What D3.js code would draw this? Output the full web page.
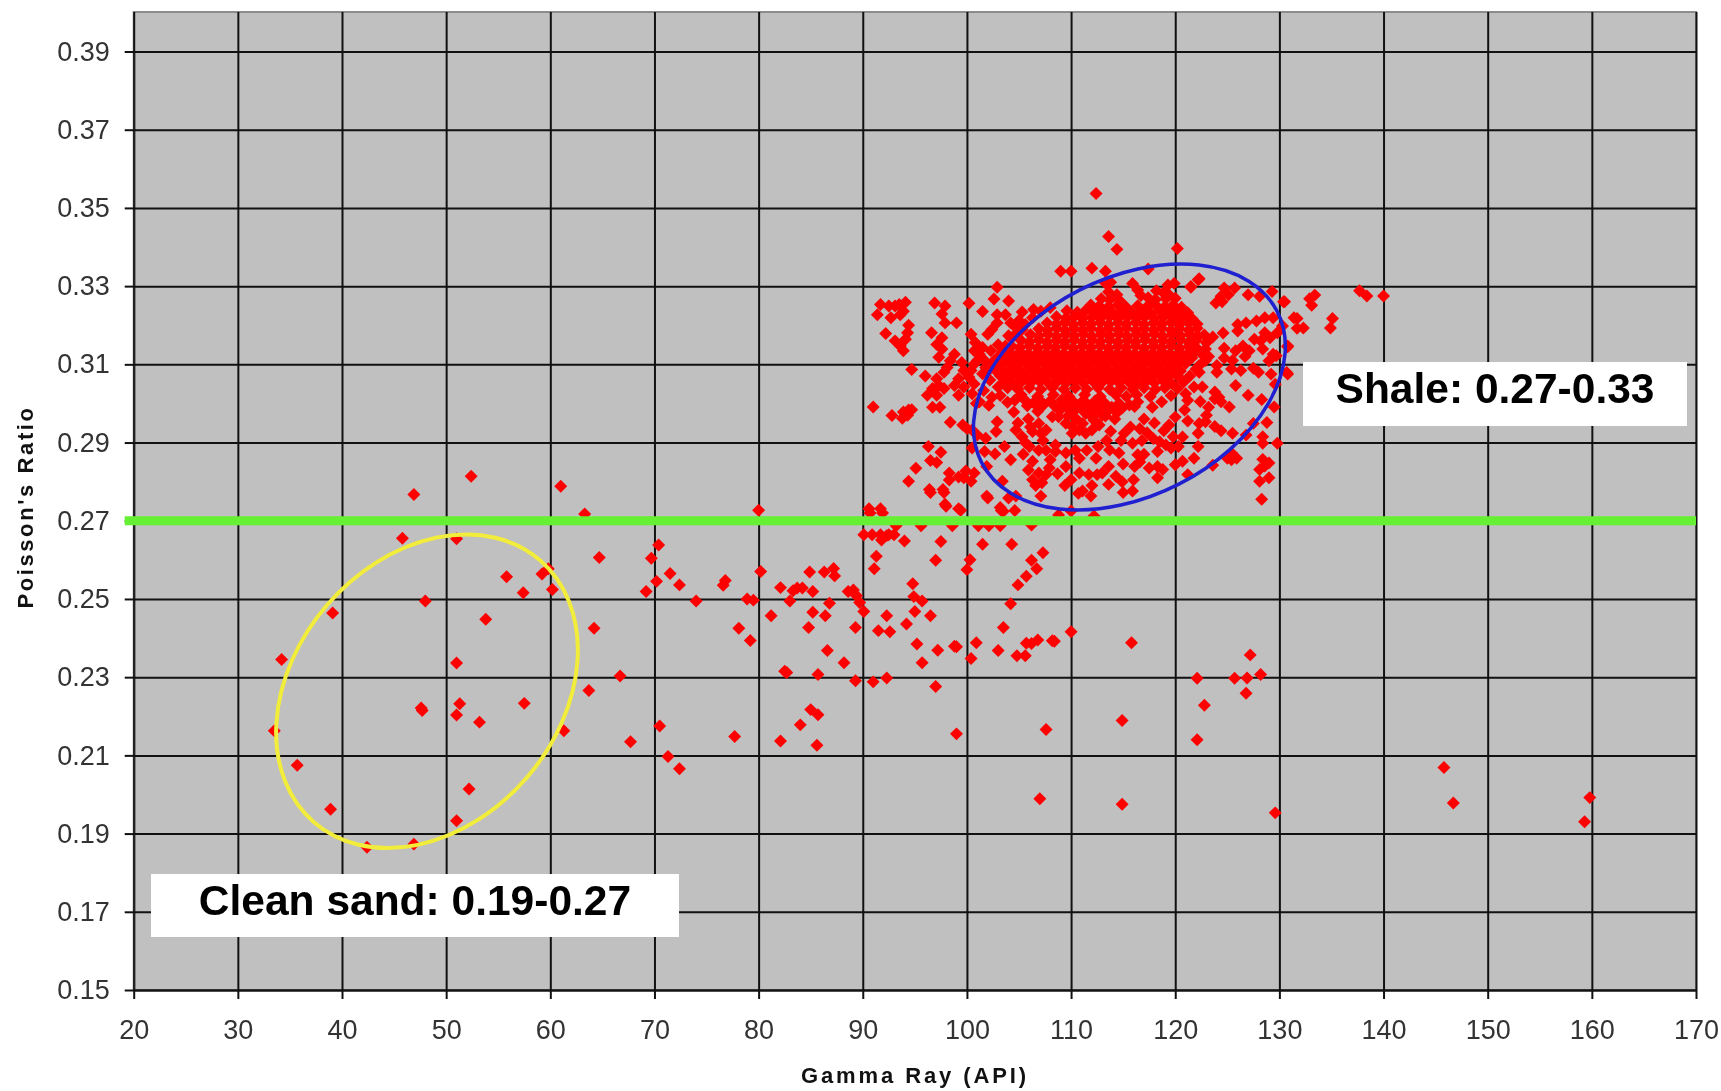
<!DOCTYPE html>
<html>
<head>
<meta charset="utf-8">
<title>Poisson's Ratio vs Gamma Ray</title>
<script src="https://d3js.org/d3.v7.min.js"></script>
<style>
    html, body { margin: 0; padding: 0; background: #fff; overflow: hidden; }
    svg { display: block; filter: blur(0.4px); }
    text { font-family: "Liberation Sans", Arial, sans-serif; }
</style>
</head>
<body>
<div id="canvas"></div>
<script>
"use strict"

/* Tick labels */
const xTicks = d3.range(20, 171, 10);
const yTicks = [0.15, 0.17, 0.19, 0.21, 0.23, 0.25, 0.27, 0.29, 0.31, 0.33, 0.35, 0.37, 0.39];

/* All points are [gamma ray, poisson's ratio] */
const sandPoints = [
    [52.4, .2814], [46.9, .2767], [61.0, .2788], [63.3, .2717], [45.8, .2655], [51.0, .2654], [64.7, .2606],
    [59.8, .2577], [59.2, .2564], [55.8, .2557], [57.4, .2516], [60.2, .2524], [48.0, .2495], [39.1, .2464],
    [53.8, .2448], [64.2, .2425], [34.2, .2345], [51.0, .2336], [66.7, .2303], [63.7, .2266], [51.3, .2232],
    [47.6, .2221], [47.7, .2215], [51.0, .2203], [53.2, .2185], [57.5, .2233], [61.3, .2163], [33.5, .2163],
    [67.7, .2135], [35.7, .2075], [52.2, .2014], [38.9, .1962], [51.0, .1933], [42.4, .1865], [46.9, .1873]
];
const transitionPoints = [
    [70.4, .2638], [69.7, .2604], [71.5, .2565], [72.4, .2536], [70.2, .2545], [69.2, .2519], [74.0, .2495],
    [70.5, .2175], [71.3, .2097], [72.4, .2066], [80.0, .2727], [76.8, .2547], [76.6, .2535], [78.9, .2500],
    [79.5, .2497], [80.2, .2570], [78.1, .2425], [79.2, .2394], [81.2, .2457], [82.1, .2529], [83.0, .2495],
    [83.3, .2521], [83.7, .2528], [84.2, .2528], [84.9, .2569], [86.3, .2569], [87.2, .2578], [87.3, .2559],
    [85.2, .2519], [86.8, .2489], [85.2, .2466], [86.4, .2457], [84.8, .2427], [88.6, .2519], [89.1, .2523],
    [89.4, .2508], [89.7, .2491], [90.1, .2468], [89.3, .2427], [86.6, .2368], [88.2, .2337], [82.5, .2315],
    [82.7, .2312], [85.7, .2307], [89.3, .2291], [91.0, .2288], [92.3, .2298], [97.0, .2276], [94.8, .2539],
    [94.9, .2506], [95.7, .2495], [95.0, .2468], [96.5, .2457], [92.3, .2457], [94.2, .2436], [91.5, .2419],
    [92.6, .2416], [95.2, .2385], [97.2, .2369], [98.8, .2379], [99.0, .2378], [95.7, .2337], [100.9, .2388],
    [100.4, .2348], [103.0, .2368], [103.5, .2427], [104.2, .2488], [104.8, .2355], [105.6, .2355], [105.7, .2387],
    [106.2, .2386], [106.8, .2395], [108.2, .2393], [108.4, .2392], [110.0, .2416], [77.7, .2148], [82.1, .2137],
    [84.0, .2178], [85.0, .2217], [85.7, .2204], [85.6, .2126], [99.0, .2155], [107.6, .2166], [107.0, .1989],
    [94.0, .2648], [97.5, .2647], [101.5, .2640], [104.3, .2640], [107.3, .2618], [106.2, .2599], [106.7, .2577],
    [105.7, .2558], [104.9, .2536], [100.3, .2600], [100.0, .2575], [97.0, .2599], [91.3, .2609], [91.1, .2577],
    [90.1, .2664], [90.9, .2664], [91.7, .2664], [92.5, .2664], [93.0, .2664], [91.8, .2651], [92.3, .2662]
];
const highGammaPoints = [
    [115.8, .2388], [127.2, .2357], [122.1, .2297], [125.7, .2297], [126.9, .2298], [128.2, .2307], [126.8, .2259],
    [122.8, .2228], [114.9, .2189], [122.1, .2140], [145.8, .2069], [146.7, .1978], [159.8, .1992], [159.3, .1930],
    [114.9, .1975], [129.6, .1953]
];
const greenLinePoints = [
    [90.7, .2720], [91.9, .2720], [98.0, .2737], [99.4, .2727], [102.0, .2758], [96.5, .2772], [97.8, .2772],
    [103.3, .2726], [104.6, .2726], [103.5, .2724], [93.2, .2687], [95.6, .2687], [98.6, .2687], [101.1, .2687],
    [102.1, .2687], [103.2, .2687], [106.2, .2689], [90.6, .2731], [91.7, .2731], [99.2, .2731], [97.9, .2742],
    [103.2, .2734], [110.0, .2725], [108.8, .2715], [112.2, .2712]
];
const shaleOutliers = [
    [112.4, .3537], [113.6, .3427], [114.4, .3394], [120.2, .3396], [109.0, .3338], [110.0, .3338], [112.0, .3346],
    [113.3, .3338], [117.4, .3344], [122.2, .3316], [121.5, .3297], [113.3, .3308], [140.0, .3275], [138.4, .3275],
    [137.7, .3288], [133.4, .3277], [132.9, .3268], [133.1, .3251], [130.4, .3260], [131.7, .3217], [132.3, .3193],
    [131.7, .3192], [135.1, .3217], [134.9, .3193], [131.4, .3219], [130.8, .3145], [130.8, .3075]
];
const shaleLeft = [
    [91.7, .3253], [91.4, .3227], [92.5, .3249], [92.7, .3219], [93.1, .3249], [93.6, .3227], [93.5, .3253],
    [94.1, .3259], [93.9, .3236], [94.4, .3200], [94.3, .3181], [94.1, .3164], [92.2, .3179], [93.1, .3160],
    [93.6, .3147], [93.9, .3135], [96.9, .3257], [97.9, .3249], [97.6, .3229], [97.9, .3206], [99.0, .3206],
    [96.6, .3181], [97.6, .3168], [97.1, .3151], [97.6, .3139], [97.3, .3118], [98.8, .3126], [98.4, .3109],
    [98.1, .3092], [97.8, .3080], [94.7, .3087], [96.0, .3070], [97.1, .3063], [97.3, .3046], [96.7, .3038],
    [96.2, .3021], [97.8, .3038], [98.8, .3046], [97.1, .3021], [99.2, .3021], [91.0, .2991], [92.8, .2969],
    [93.8, .2962], [94.4, .2983], [93.9, .2978], [94.7, .2984], [94.3, .2970], [96.7, .2990], [97.4, .2990],
    [98.4, .2952], [99.6, .2945], [100.0, .2936], [96.3, .2890], [97.5, .2875], [96.5, .2854], [97.1, .2849],
    [95.1, .2834], [94.4, .2801], [96.4, .2780], [97.7, .2780], [98.3, .2822], [98.3, .2804], [99.2, .2812],
    [99.9, .2827], [100.7, .2822], [100.4, .2801], [99.7, .2810], [100.2, .3256], [102.9, .3297], [102.6, .3267],
    [104.0, .3262], [101.5, .3235], [100.4, .3177], [100.8, .3156], [101.5, .3143], [102.3, .3135], [100.7, .3135],
    [101.2, .3126], [100.4, .3084], [99.7, .3084], [100.7, .3101], [100.2, .3067], [100.7, .3050], [99.7, .3042],
    [101.5, .3076], [101.6, .3033], [100.5, .3025], [101.2, .3004], [102.1, .2995], [102.4, .3016], [102.4, .3189],
    [102.0, .3177], [102.9, .3206], [102.9, .3227], [103.7, .3227], [104.2, .3206], [104.7, .3194], [105.3, .3234],
    [107.1, .3236], [106.3, .3219], [105.6, .3202], [104.0, .3173], [104.7, .3177], [103.7, .3147], [105.3, .3189],
    [101.0, .3110], [101.8, .3092], [102.6, .3108], [102.2, .3060], [99.2, .3063], [99.5, .3105], [100.9, .3000]
];
const shaleLower = [
    [100.5, .2886], [101.7, .2877], [102.7, .2871], [103.6, .2890], [101.9, .2839], [103.4, .2801], [101.9, .2763],
    [104.7, .2763], [104.0, .2758], [104.2, .2856], [107.1, .2763], [102.9, .2953], [102.8, .2928], [101.0, .2919],
    [101.8, .2911], [100.5, .2932], [104.7, .2932], [105.3, .2915], [106.0, .2890], [105.6, .2900], [106.9, .2949],
    [107.6, .2932], [106.3, .2928], [107.1, .2924], [108.5, .2894], [108.5, .2877], [106.3, .2852], [108.0, .2856],
    [109.5, .2873], [109.5, .2839], [106.9, .2822], [107.6, .2818], [106.3, .2805], [107.2, .2797], [110.0, .2805],
    [110.8, .2822], [111.7, .2818], [112.5, .2818], [111.1, .2776], [111.9, .2763], [104.5, .2978], [108.2, .2966],
    [109.2, .3000], [111.4, .2974], [111.1, .2949], [110.1, .2924], [108.8, .2966], [109.5, .2949], [110.1, .2941],
    [110.8, .2932], [111.4, .2924], [112.0, .2932], [112.2, .2957], [111.7, .2991], [110.8, .2991], [113.7, .2881],
    [114.6, .2873], [116.4, .2869], [116.1, .2839], [113.6, .2839], [114.3, .2814], [113.6, .2793], [115.0, .2772],
    [115.9, .2776], [116.0, .2805], [113.8, .2929], [115.7, .2940], [115.1, .2924], [115.9, .2898], [113.0, .2822],
    [118.5, .2902], [119.1, .2894], [118.3, .2877], [119.6, .2886], [117.5, .2835], [118.3, .2839], [118.8, .2831],
    [118.3, .2810], [120.7, .2914], [118.9, .2930], [122.2, .2890], [121.8, .2860], [120.7, .2852], [120.0, .2843],
    [123.6, .2842], [121.2, .2818], [113.0, .2970], [114.2, .2960], [117.0, .2960], [118.0, .2950], [119.4, .2945],
    [116.8, .2905], [112.6, .2890], [110.4, .2880],
    [104.9, .2950], [105.9, .2960], [106.1, .2940], [107.3, .2905], [106.9, .2880], [107.6, .2880], [105.4, .2870],
    [105.9, .2830], [107.9, .2835], [108.7, .2820], [106.6, .2790], [109.4, .2790], [110.5, .2960], [112.7, .2945],
    [113.4, .2905], [114.8, .2905], [117.3, .2925], [116.6, .2935], [117.9, .2910], [119.8, .2915], [120.3, .2890],
    [116.6, .2850], [115.0, .2845], [114.9, .2800], [117.0, .2870], [112.4, .2860], [111.5, .2880], [110.8, .2860],
    [112.0, .2790], [110.7, .2770]
];
const shaleRight = [
    [130.5, .3260], [129.3, .3286], [127.0, .3278], [128.1, .3274], [125.7, .3295], [124.7, .3295], [124.4, .3274],
    [125.1, .3278], [123.9, .3257], [124.5, .3260], [122.3, .3319], [121.5, .3299], [119.3, .3303], [119.9, .3307],
    [119.4, .3278], [119.0, .3286], [120.0, .3269], [115.9, .3307], [116.4, .3290], [116.7, .3276], [117.7, .3256],
    [113.8, .3310], [126.0, .3202], [126.8, .3206], [126.0, .3185], [127.8, .3211], [128.6, .3219], [129.4, .3219],
    [130.3, .3198], [129.8, .3181], [127.6, .3164], [128.6, .3181], [129.1, .3168], [128.2, .3160], [124.7, .3141],
    [126.5, .3147], [127.1, .3135], [125.8, .3135], [128.4, .3139], [129.4, .3126], [130.8, .3147], [124.7, .3116],
    [129.0, .3109], [129.7, .3122], [126.7, .3120], [124.0, .3097], [124.0, .3080], [125.4, .3088], [126.3, .3084],
    [129.2, .3075], [130.7, .3079], [125.8, .3046], [129.6, .3049], [127.0, .3021], [128.3, .3010], [129.5, .2991],
    [123.8, .3029], [124.2, .3016], [123.8, .3012], [124.4, .3004], [125.2, .2991], [122.9, .3139], [122.3, .3097],
    [122.3, .3080], [121.8, .3042], [122.6, .3042], [121.0, .3025], [121.2, .3008], [120.9, .2983], [122.3, .2949],
    [122.9, .2953], [123.8, .2941], [124.4, .2930], [122.2, .2924], [125.5, .2924], [126.8, .2919], [127.5, .2949],
    [128.8, .2951], [128.4, .2915], [128.4, .2898], [129.8, .2898], [125.4, .2873], [125.0, .2860], [125.9, .2860],
    [125.4, .2856], [128.4, .2857], [129.0, .2848], [128.1, .2831], [128.6, .2840], [129.0, .2810], [128.1, .2801],
    [128.3, .2755],
    [123.2, .3120], [123.6, .3170], [124.6, .3180], [125.5, .3110], [127.5, .3090], [128.0, .3080], [123.2, .2990],
    [122.4, .3005], [123.0, .2970], [120.0, .2965], [121.2, .2955]
];
const shaleCore = [
    [113.6, .3285], [114.4, .3278], [118.2, .3288], [118.9, .3282], [112.9, .3268], [113.7, .3265], [114.7, .3262],
    [117.4, .3270], [118.1, .3266], [119.1, .3268], [111.9, .3252], [112.7, .3249], [113.6, .3247], [114.5, .3252],
    [115.3, .3246], [116.4, .3250], [117.3, .3247], [118.1, .3252], [119.0, .3247], [119.8, .3252], [120.6, .3246],
    [109.6, .3237], [110.6, .3233], [111.4, .3238], [112.2, .3234], [113.1, .3236], [114.0, .3232], [114.9, .3237],
    [115.8, .3233], [116.7, .3236], [117.6, .3232], [118.5, .3237], [119.4, .3233], [120.3, .3236], [121.2, .3232],
    [108.6, .3222], [109.5, .3218], [110.3, .3222], [111.1, .3217], [112.0, .3221], [112.8, .3218], [113.7, .3222],
    [114.5, .3217], [115.4, .3221], [116.3, .3218], [117.1, .3222], [118.0, .3217], [118.9, .3222], [119.8, .3218],
    [120.7, .3222], [121.6, .3217], [107.7, .3206], [108.6, .3203], [109.4, .3207], [110.2, .3202], [111.1, .3206],
    [111.9, .3203], [112.8, .3207], [113.6, .3202], [114.5, .3206], [115.3, .3203], [116.2, .3207], [117.0, .3202],
    [117.9, .3206], [118.7, .3203], [119.6, .3207], [120.4, .3202], [121.3, .3206], [122.1, .3203], [106.9, .3191],
    [107.7, .3188], [108.6, .3192], [109.4, .3187], [110.3, .3191], [111.1, .3188], [111.9, .3192], [112.8, .3187],
    [113.6, .3191], [114.5, .3188], [115.3, .3192], [116.2, .3187], [117.0, .3191], [117.9, .3188], [118.7, .3192],
    [119.6, .3187], [120.4, .3191], [121.3, .3188], [122.1, .3192], [106.1, .3176], [106.9, .3173], [107.8, .3177],
    [108.6, .3172], [109.5, .3176], [110.3, .3173], [111.2, .3177], [112.0, .3172], [112.9, .3176], [113.7, .3173],
    [114.6, .3177], [115.4, .3172], [116.3, .3176], [117.1, .3173], [118.0, .3177], [118.8, .3172], [119.7, .3176],
    [120.5, .3173], [121.4, .3177], [122.2, .3172], [105.2, .3161], [106.0, .3158], [106.9, .3162], [107.7, .3157],
    [108.6, .3161], [109.4, .3158], [110.3, .3162], [111.1, .3157], [112.0, .3161], [112.8, .3158], [113.7, .3162],
    [114.5, .3157], [115.4, .3161], [116.2, .3158], [117.1, .3162], [117.9, .3157], [118.8, .3161], [119.6, .3158],
    [120.5, .3162], [121.3, .3157], [122.0, .3161], [104.3, .3146], [105.1, .3143], [106.0, .3147], [106.8, .3142],
    [107.7, .3146], [108.5, .3143], [109.4, .3147], [110.2, .3142], [111.1, .3146], [111.9, .3143], [112.8, .3147],
    [113.6, .3142], [114.5, .3146], [115.3, .3143], [116.2, .3147], [117.0, .3142], [117.9, .3146], [118.7, .3143],
    [119.6, .3147], [120.4, .3142], [121.3, .3146], [122.0, .3143], [103.4, .3131], [104.2, .3128], [105.1, .3132],
    [105.9, .3127], [106.8, .3131], [107.6, .3128], [108.5, .3132], [109.3, .3127], [110.2, .3131], [111.0, .3128],
    [111.9, .3132], [112.7, .3127], [113.6, .3131], [114.4, .3128], [115.3, .3132], [116.1, .3127], [117.0, .3131],
    [117.8, .3128], [118.7, .3132], [119.5, .3127], [120.4, .3131], [121.2, .3128], [121.9, .3132], [102.9, .3116],
    [103.7, .3113], [104.6, .3117], [105.4, .3112], [106.3, .3116], [107.1, .3113], [108.0, .3117], [108.8, .3112],
    [109.7, .3116], [110.5, .3113], [111.4, .3117], [112.2, .3112], [113.1, .3116], [113.9, .3113], [114.8, .3117],
    [115.6, .3112], [116.5, .3116], [117.3, .3113], [118.2, .3117], [119.0, .3112], [119.9, .3116], [120.7, .3113],
    [121.6, .3117], [102.3, .3101], [103.1, .3098], [104.0, .3102], [104.8, .3097], [105.7, .3101], [106.5, .3098],
    [107.4, .3102], [108.2, .3097], [109.1, .3101], [109.9, .3098], [110.8, .3102], [111.6, .3097], [112.5, .3101],
    [113.3, .3098], [114.2, .3102], [115.0, .3097], [115.9, .3101], [116.7, .3098], [117.6, .3102], [118.4, .3097],
    [119.3, .3101], [120.1, .3098], [121.0, .3102], [102.7, .3086], [103.5, .3083], [104.4, .3087], [105.2, .3082],
    [106.1, .3086], [106.9, .3083], [107.8, .3087], [108.6, .3082], [109.5, .3086], [110.3, .3083], [111.2, .3087],
    [112.0, .3082], [112.9, .3086], [113.7, .3083], [114.6, .3087], [115.4, .3082], [116.3, .3086], [117.1, .3083],
    [118.0, .3087], [118.8, .3082], [119.7, .3086], [120.5, .3083], [103.2, .3071], [104.0, .3068], [104.9, .3072],
    [105.7, .3067], [106.6, .3071], [107.4, .3068], [108.3, .3072], [109.1, .3067], [110.0, .3071], [110.8, .3068],
    [111.7, .3072], [112.5, .3067], [113.4, .3071], [114.2, .3068], [115.1, .3072], [115.9, .3067], [116.8, .3071],
    [117.6, .3068], [118.5, .3072], [119.3, .3067], [120.2, .3071], [103.6, .3056], [104.4, .3053], [105.3, .3057],
    [106.1, .3052], [107.0, .3056], [107.8, .3053], [108.7, .3057], [109.5, .3052], [110.4, .3056], [111.2, .3053],
    [112.1, .3057], [112.9, .3052], [113.8, .3056], [114.6, .3053], [115.5, .3057], [116.3, .3052], [117.2, .3056],
    [118.0, .3053], [118.9, .3057], [119.6, .3052], [103.9, .3040], [104.9, .3036], [106.0, .3040], [107.1, .3036],
    [108.2, .3040], [109.3, .3036], [110.4, .3040], [111.5, .3036], [112.6, .3040], [113.7, .3036], [114.8, .3040],
    [115.9, .3036], [117.0, .3040], [118.1, .3036], [119.0, .3040], [105.2, .3022], [106.8, .3018], [108.3, .3022],
    [109.8, .3018], [111.3, .3022], [112.8, .3018], [114.3, .3022], [115.3, .3018], [116.3, .3022], [117.6, .3018],
    [113.2, .3002], [114.6, .3000], [115.6, .2996], [116.4, .3004], [106.4, .3002], [107.4, .2998]
];
const shaleCoreEdge = [
    [104.6, .3008], [105.7, .3005], [106.9, .3010], [108.0, .3006], [109.1, .3009], [110.2, .3005], [111.2, .3008],
    [112.3, .3006], [105.8, .2994], [107.0, .2988], [108.4, .2994], [109.6, .2990], [110.6, .2994], [111.7, .2992],
    [112.8, .2994], [113.9, .2990], [114.9, .2988], [116.1, .2992], [106.8, .2980], [108.9, .2982], [110.2, .2978],
    [111.3, .2982], [112.4, .2978], [113.5, .2980], [114.4, .2976], [109.7, .2968], [112.0, .2966], [113.3, .2968],
    [122.8, .3175], [123.0, .3155], [122.6, .3125], [122.9, .3110], [122.0, .3088], [121.4, .3070], [120.8, .3055],
    [120.2, .3038], [119.6, .3020], [118.7, .3004], [117.8, .2990], [102.0, .3082], [101.7, .3110], [103.0, .3150],
    [104.3, .3168], [105.0, .3212], [106.4, .3240], [108.0, .3245], [103.0, .3042], [103.2, .3020], [103.9, .3003]
];

/* Text labels */
const xLabel = "Gamma Ray (API)";
const yLabel = "Poisson's Ratio";
const cleanSandLabel = "Clean sand: 0.19-0.27";
const shaleLabel = "Shale: 0.27-0.33";
const boundaryValue = 0.27;

/* Configuration variables: drawing */
let svgWidth = 1721;
let svgHeight = 1091;
let plotLeft = 133.7, plotRight = 1696, plotTop = 12, plotBottom = 990;

let svg = d3.select("#canvas")
    .append("svg")
    .attr("width", svgWidth)
    .attr("height", svgHeight);

let xScale = d3.scaleLinear().domain([20, 170]).range([plotLeft, plotRight]);
let yScale = d3.scaleLinear().domain([0.15, 0.39]).range([plotBottom, 51.5]);

/* Plot background */
svg.append("rect")
    .attr("x", plotLeft)
    .attr("y", plotTop)
    .attr("width", plotRight - plotLeft)
    .attr("height", plotBottom - plotTop)
    .attr("fill", "#c0c0c0")
    .attr("stroke", "#8c8c8c")
    .attr("stroke-width", 2);

/* Grid lines with outward ticks, done with axes */
let xAxis = d3.axisBottom(xScale).tickValues(xTicks).tickSizeInner(-(plotBottom - plotTop)).tickSizeOuter(0).tickPadding(30);
let yAxis = d3.axisLeft(yScale).tickValues(yTicks).tickSizeInner(-(plotRight - plotLeft)).tickSizeOuter(0).tickPadding(24)
    .tickFormat(d3.format(".2f"));

let xGroup = svg.append("g").attr("transform", `translate(0,${plotBottom})`).call(xAxis);
let yGroup = svg.append("g").attr("transform", `translate(${plotLeft},0)`).call(yAxis);

xGroup.select(".domain").attr("stroke", "#222").attr("stroke-width", 2);
yGroup.select(".domain").attr("stroke", "#222").attr("stroke-width", 2);
svg.selectAll(".tick line").attr("stroke", "#111").attr("stroke-width", 2);
svg.selectAll(".tick text")
    .attr("font-size", 27)
    .attr("fill", "#333")
    .attr("font-family", "'Liberation Sans', Arial, sans-serif");

/* Outward tick stubs */
xGroup.selectAll(".tick").append("line").attr("y1", 0).attr("y2", 9).attr("stroke", "#111").attr("stroke-width", 2);
yGroup.selectAll(".tick").append("line").attr("x1", 0).attr("x2", -9).attr("stroke", "#111").attr("stroke-width", 2);

/* The data, red diamonds */
let dataset = [].concat(sandPoints, transitionPoints, highGammaPoints, greenLinePoints,
    shaleOutliers, shaleLeft, shaleLower, shaleRight, shaleCore, shaleCoreEdge);

let diamond = d3.symbol().type(d3.symbolSquare).size(84);

svg.selectAll("path.point")
    .data(dataset)
    .join("path")
    .attr("class", "point")
    .attr("d", diamond)
    .attr("fill", "#ff0000")
    .attr("transform", function (value) {
        return `translate(${xScale(value[0])},${yScale(value[1])}) rotate(45)`;
    });

/* Green boundary line */
svg.append("line")
    .attr("x1", plotLeft - 9)
    .attr("x2", plotRight)
    .attr("y1", yScale(boundaryValue))
    .attr("y2", yScale(boundaryValue))
    .attr("stroke", "#66f033")
    .attr("stroke-width", 9);

/* Hand drawn ellipses */
svg.append("ellipse")
    .attr("rx", 166)
    .attr("ry", 109)
    .attr("transform", `translate(${xScale(115.6)},${yScale(0.3042)}) rotate(-27)`)
    .attr("fill", "none")
    .attr("stroke", "#2020d0")
    .attr("stroke-width", 3.5);

svg.append("ellipse")
    .attr("rx", 173)
    .attr("ry", 132)
    .attr("transform", `translate(${xScale(48.16)},${yScale(0.2264)}) rotate(-49.2)`)
    .attr("fill", "none")
    .attr("stroke", "#f2ec3a")
    .attr("stroke-width", 4);

/* White label boxes */
svg.append("rect").attr("x", 151).attr("y", 874).attr("width", 528).attr("height", 63).attr("fill", "white");
svg.append("text")
    .attr("x", 415)
    .attr("y", 915)
    .attr("text-anchor", "middle")
    .attr("font-size", 42.5)
    .attr("font-weight", "bold")
    .attr("fill", "#000")
    .text(cleanSandLabel);

svg.append("rect").attr("x", 1303).attr("y", 362).attr("width", 384).attr("height", 64).attr("fill", "white");
svg.append("text")
    .attr("x", 1495)
    .attr("y", 403)
    .attr("text-anchor", "middle")
    .attr("font-size", 42.5)
    .attr("font-weight", "bold")
    .attr("fill", "#000")
    .text(shaleLabel);

/* Axis titles */
svg.append("text")
    .attr("x", 915)
    .attr("y", 1083)
    .attr("text-anchor", "middle")
    .attr("font-size", 22)
    .attr("font-weight", "bold")
    .attr("letter-spacing", 2.9)
    .attr("fill", "#111")
    .text(xLabel);

svg.append("text")
    .attr("transform", "translate(33,507) rotate(-90)")
    .attr("text-anchor", "middle")
    .attr("font-size", 22)
    .attr("font-weight", "bold")
    .attr("letter-spacing", 2.6)
    .attr("fill", "#111")
    .text(yLabel);
</script>
</body>
</html>
